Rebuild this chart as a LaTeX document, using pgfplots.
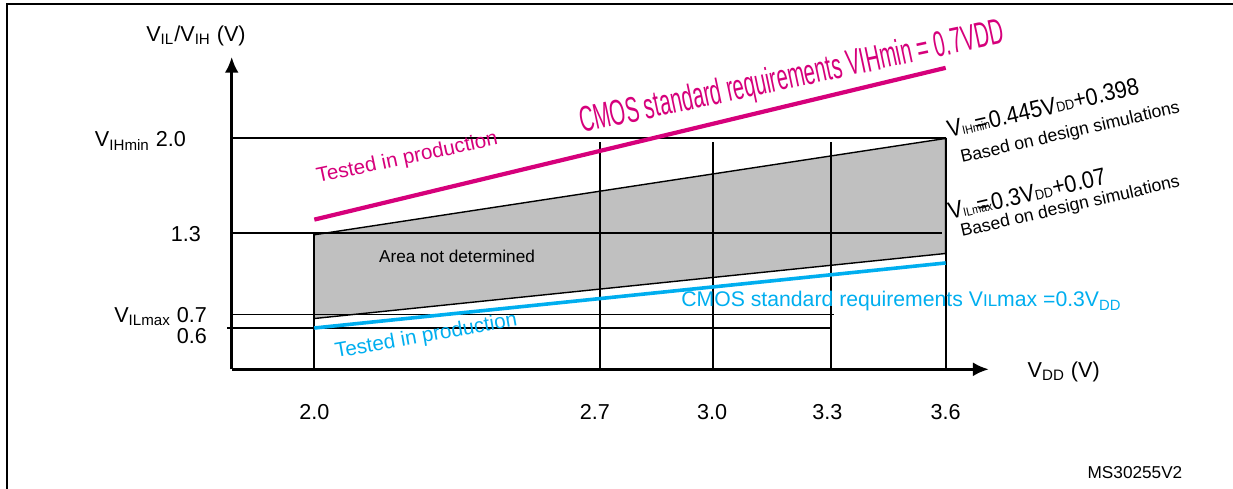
\documentclass[border=0pt]{standalone}
\usepackage{pgfplots}
\pgfplotsset{compat=1.18}
\usepackage{fontspec}
\setmainfont{Liberation Sans}
\usetikzlibrary{arrows.meta}
\definecolor{stmag}{RGB}{214,0,123}
\definecolor{stblue}{RGB}{0,174,239}
\definecolor{areagray}{RGB}{192,192,192}
\newcommand{\fs}[1]{\fontsize{#1}{#1}\selectfont}
\begin{document}
\begin{tikzpicture}
\begin{axis}[
  width=616.5pt, height=244pt, scale only axis,
  xmin=1.2035, xmax=4.3282, ymin=-0.5808, ymax=3.0207,
  axis lines=none, clip=false,
]
% frame
\addplot[black, line width=1pt] coordinates {(1.2212,-0.60) (1.2212,2.991) (4.34,2.991)};
% gray area
\addplot[fill=areagray, draw=black, line width=0.7pt] coordinates {(2.0,1.288) (3.6,1.999) (3.6,1.15) (2.0,0.67)} -- cycle;
% horizontal lines
\addplot[black, line width=0.9pt] coordinates {(1.7907,2.0) (3.6,2.0)};
\addplot[black, line width=0.9pt] coordinates {(1.7907,1.3) (3.59,1.3)};
\addplot[black, line width=0.9pt] coordinates {(1.7907,0.7) (3.318,0.7)};
\addplot[black, line width=0.9pt] coordinates {(1.78,0.6) (3.31,0.6)};
% vertical lines
\addplot[black, line width=0.9pt] coordinates {(2.0,1.3) (2.0,0.2952)};
\addplot[black, line width=0.9pt] coordinates {(2.724,1.97) (2.724,0.2952)};
\addplot[black, line width=0.9pt] coordinates {(3.01,1.97) (3.01,0.2952)};
\addplot[black, line width=0.9pt] coordinates {(3.31,1.97) (3.31,0.2952)};
\addplot[black, line width=0.9pt] coordinates {(3.6,2.0) (3.6,0.2952)};
% CMOS lines
\addplot[stmag, line width=2.1pt] coordinates {(2.0,1.4) (3.6,2.52)};
\addplot[stblue, line width=1.8pt] coordinates {(2.0,0.6) (3.6,1.08)};
% axes
\addplot[black, line width=1.6pt, -{Latex[length=8pt,width=7pt]}] coordinates {(1.7907,0.2952) (3.7098,0.2952)};
\addplot[black, line width=1.6pt, -{Latex[length=8pt,width=7pt]}] coordinates {(1.7907,0.2952) (1.7907,2.602)};
% axis labels
\node[anchor=center] at (axis cs:1.7002,2.755) {\fs{10.8}V\textsubscript{IL}/V\textsubscript{IH} (V)};
\node[anchor=base west] at (axis cs:3.79,0.238) {\fs{10.8}V\textsubscript{DD} (V)};
% y tick labels
\node[anchor=base east] at (axis cs:1.6925,1.936) {\fs{10.8}V\textsubscript{IHmin} 2.0};
\node[anchor=base east] at (axis cs:1.7305,1.242) {\fs{10.8}1.3};
\node[anchor=base east] at (axis cs:1.7458,0.644) {\fs{10.8}V\textsubscript{ILmax} 0.7};
\node[anchor=base east] at (axis cs:1.7458,0.489) {\fs{10.8}0.6};
% x tick labels
\node[anchor=base] at (axis cs:2.0,-0.0716) {\fs{10.8}2.0};
\node[anchor=base] at (axis cs:2.711,-0.0716) {\fs{10.8}2.7};
\node[anchor=base] at (axis cs:3.008,-0.0716) {\fs{10.8}3.0};
\node[anchor=base] at (axis cs:3.30,-0.0716) {\fs{10.8}3.3};
\node[anchor=base] at (axis cs:3.60,-0.0716) {\fs{10.8}3.6};
% texts
\node[anchor=center] at (axis cs:2.3616,1.131) {\fs{8.6}Area not determined};
\node[anchor=center] at (axis cs:4.0798,-0.470) {\fs{8.6}MS30255V2};
\node[anchor=base west, rotate=12, text=stmag, inner sep=0pt] at (axis cs:2.678,2.040) {\scalebox{0.56}[1]{\fs{18}CMOS standard requirements VIHmin = 0.7VDD}};
\node[anchor=base west, rotate=12, text=stmag, inner sep=0pt] at (axis cs:2.009,1.670) {\fs{10.3}Tested in production};
\node[anchor=base west, rotate=10, text=stblue, inner sep=0pt] at (axis cs:2.055,0.379) {\fs{10.3}Tested in production};
\node[anchor=base west, text=stblue, inner sep=0pt] at (axis cs:2.9293,0.755) {\fs{10.6}CMOS standard requirements V{\fs{8.5}IL}max =0.3V\textsubscript{DD}};
\node[anchor=base west, rotate=13, inner sep=0pt] at (axis cs:3.6085,2.002) {\scalebox{0.9}[1]{\fs{12}V{\fs{6}IHmin}\llap{=\kern0.1em}0.445V{\fs{7}DD}+0.398}};
\node[anchor=base west, rotate=13, inner sep=0pt] at (axis cs:3.641,1.818) {\fs{8.8}Based on design simulations};
\node[anchor=base west, rotate=13, inner sep=0pt] at (axis cs:3.611,1.397) {\scalebox{0.9}[1]{\fs{12}V{\fs{6}ILmax}\llap{=\kern0.1em}0.3V{\fs{7}DD}+0.07}};
\node[anchor=base west, rotate=13, inner sep=0pt] at (axis cs:3.641,1.271) {\fs{8.8}Based on design simulations};
\end{axis}
\pgfresetboundingbox
\useasboundingbox (current axis.south west) rectangle (current axis.north east);
\end{tikzpicture}
\end{document}
